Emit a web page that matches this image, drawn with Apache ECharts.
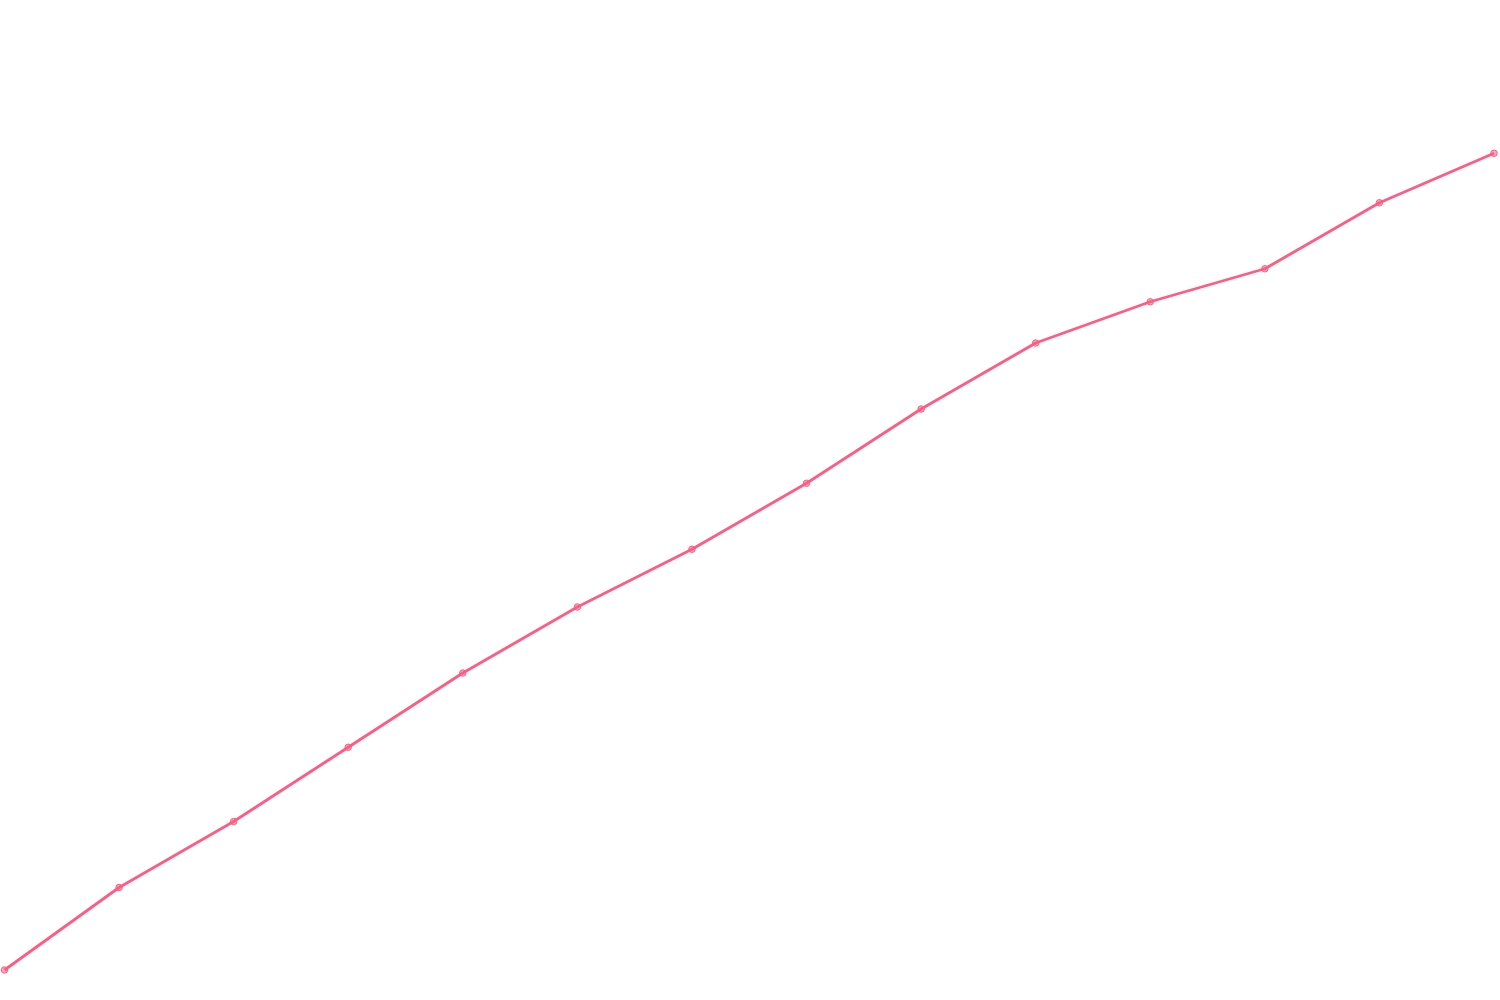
<!DOCTYPE html>
<html>
<head>
<meta charset="utf-8">
<script src="https://cdn.jsdelivr.net/npm/echarts@6/dist/echarts.min.js"></script>
<style>
  html, body { margin: 0; padding: 0; background: #fff; }
  #chart { width: 1500px; height: 1000px; }
</style>
</head>
<body>
<div id="chart"></div>
<script>
// categories along the x axis (no labels shown in the picture)
const categories = ['1', '2', '3', '4', '5', '6', '7', '8', '9', '10', '11', '12', '13', '14'];
// series values
const values = [0, 10, 18, 27, 36, 44, 51, 59, 68, 76, 81, 85, 93, 99];

const lineColor = '#ff5c84';

let myChart = echarts.init(document.getElementById('chart'));

let option = {};
option.animation = false;
option.grid = { left: 4.5, right: 6, top: 13, bottom: 30 };
option.xAxis = {
  type: 'category',
  data: categories,
  boundaryGap: false,
  show: false
};
option.yAxis = {
  type: 'value',
  min: 0,
  max: 116,
  show: false
};
option.series = [{
  type: 'line',
  data: values,
  symbol: 'circle',
  symbolSize: 6.5,
  showAllSymbol: true,
  lineStyle: { color: lineColor, width: 2.8 },
  itemStyle: {
    color: 'rgba(255, 92, 132, 0.55)',
    borderColor: lineColor,
    borderWidth: 1
  }
}];

myChart.setOption(option);
</script>
</body>
</html>
